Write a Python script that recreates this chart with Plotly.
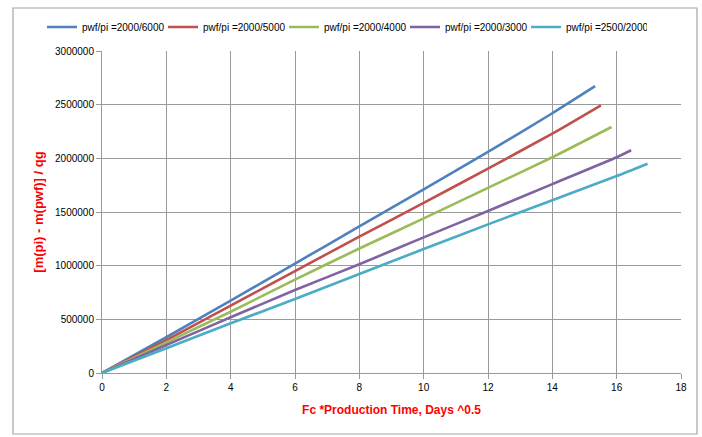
import plotly.graph_objects as go

names = ["pwf/pi =2000/6000", "pwf/pi =2000/5000", "pwf/pi =2000/4000",
         "pwf/pi =2000/3000", "pwf/pi =2500/2000"]
colors = ["#4F81BD", "#C0504D", "#9BBB59", "#8064A2", "#4BACC6"]

x_blue = [0, 2, 4, 6, 8, 10, 12, 14, 15.33]
y_blue = [0, 333000, 674000, 1020000, 1365000, 1710000, 2060000, 2420000, 2672000]

x_red = [0, 2, 4, 6, 8, 10, 12, 14, 15.51]
y_red = [0, 307000, 627000, 950000, 1270000, 1585000, 1905000, 2230000, 2494000]

x_green = [0, 2, 4, 6, 8, 10, 12, 14, 15.84]
y_green = [0, 286000, 571000, 870000, 1160000, 1440000, 1725000, 2010000, 2292000]

x_purple = [0, 2, 4, 6, 8, 10, 12, 14, 16, 16.45]
y_purple = [0, 261000, 519000, 773000, 1013000, 1264000, 1510000, 1760000, 2010000, 2075000]

x_cyan = [0, 2, 4, 6, 8, 10, 12, 14, 16, 16.96]
y_cyan = [0, 230000, 463000, 689000, 922000, 1155000, 1385000, 1610000, 1835000, 1950000]

xs = [x_blue, x_red, x_green, x_purple, x_cyan]
ys = [y_blue, y_red, y_green, y_purple, y_cyan]

FONT = "Liberation Sans"
GRID = "#9a9a9a"

fig = go.Figure()
for n, c, x, y in zip(names, colors, xs, ys):
    fig.add_trace(go.Scatter(x=x, y=y, mode="lines", name=n,
                             line=dict(color=c, width=2.6, shape="spline", smoothing=0.5)))

fig.update_layout(
    width=702, height=437,
    margin=dict(l=102, r=21, t=51, b=64, autoexpand=False),
    paper_bgcolor="white", plot_bgcolor="white",
    font=dict(family=FONT, size=10, color="#000000"),
    showlegend=True,
    legend=dict(orientation="h", x=(42 - 102) / 579, xanchor="left",
                y=1.0 + (51 - 27) / 322,
                yanchor="middle", font=dict(family=FONT, size=10),
                itemwidth=30, entrywidth=76, entrywidthmode="pixels",
                bgcolor="rgba(0,0,0,0)"),
    xaxis=dict(range=[0, 18], dtick=2, tick0=0, showgrid=True, gridcolor=GRID,
               gridwidth=1, showline=True, linecolor=GRID, linewidth=1, mirror=False,
               ticks="outside", ticklen=5, tickcolor=GRID, zeroline=False,
               automargin=False,
               tickfont=dict(family=FONT, size=10),
               title=dict(text="<b>Fc *Production Time, Days ^0.5</b>",
                          font=dict(family=FONT, size=12, color="#FF0000"),
                          standoff=13)),
    yaxis=dict(range=[0, 3000000], dtick=500000, tick0=0, showgrid=True,
               gridcolor=GRID, gridwidth=1, showline=True, linecolor=GRID,
               linewidth=1, ticks="outside", ticklen=5, tickcolor=GRID,
               zeroline=False, tickformat="d", automargin=False,
               tickfont=dict(family=FONT, size=10),
               title=dict(text="<b>[m(pi) - m(pwf)] / qg</b>",
                          font=dict(family=FONT, size=13, color="#FF0000"),
                          standoff=8)),
)

# outer chart border
fig.add_shape(type="rect", xref="paper", yref="paper",
              x0=(13 - 102) / 579, x1=(697 - 102) / 579,
              y0=(373 - 434) / 322, y1=(373 - 8) / 322,
              line=dict(color="#a6a6a6", width=1.2), fillcolor="rgba(0,0,0,0)",
              layer="below")

fig.write_html("out.html", config={"displayModeBar": False},
               post_script="document.body.style.margin='0';document.body.style.padding='0';")
